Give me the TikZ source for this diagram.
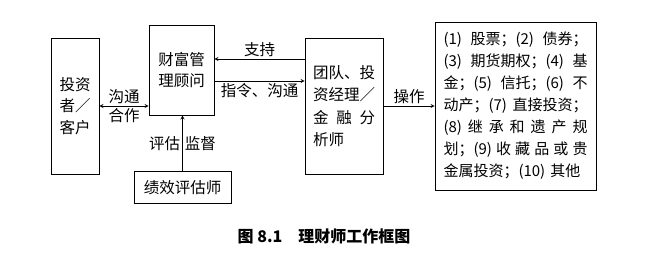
\documentclass[tikz,border=0pt]{standalone}
\usepackage{fontspec}
\setmainfont{Noto Sans CJK SC}
\usepackage{tikz}
\usetikzlibrary{arrows,positioning}
\newcommand{\fillline}[2]{\makebox[#1][s]{#2}}

\begin{document}
\begin{tikzpicture}[
    x=1pt, y=-1pt,
    mybox/.style={draw, thick, inner sep=0pt, font=\fontsize{15.5}{21.5}\selectfont},
    myedge/.style={->, thick, >=stealth},
    mylabel/.style={font=\fontsize{15.5}{18}\selectfont, inner sep=2pt}
]
\useasboundingbox (0,0) rectangle (668,262);
\node[mybox, align=center, minimum width=48, minimum height=136] (C) at (75,106) {投资\\者／\\客户};
\node[mybox, align=center, minimum width=65, minimum height=90] (A) at (181.5,70) {财富管\\理顾问};
\node[mybox, minimum width=97, minimum height=32] (E) at (182.5,187.5) {绩效评估师};
\node[mybox, align=left, minimum width=78, minimum height=136, font=\fontsize{15.5}{22.5}\selectfont] (T) at (344,106)
    {团队、投\\资经理／\\\fillline{62pt}{金\hfill 融\hfill 分}\\析师};
\node[mybox, align=left, text width=144pt, inner xsep=8.5pt, minimum height=168, font=\fontsize{15}{22}\selectfont] (P) at (515.5,106)
    {\fillline{144pt}{(1)\hfill 股票；(2)\hfill 债券；}\\
     \fillline{144pt}{(3)\hfill 期货期权；(4)\hfill 基}\\
     \fillline{144pt}{金；(5)\hfill 信托；(6)\hfill 不}\\
     \fillline{144pt}{动产；(7)\hfill 直接投资；}\\
     \fillline{144pt}{(8)\hfill 继\hfill 承\hfill 和\hfill 遗\hfill 产\hfill 规}\\
     \fillline{144pt}{划；(9)\hfill 收\hfill 藏\hfill 品\hfill 或\hfill 贵}\\
     金属投资；(10) 其他};
\node[font=\bfseries\fontsize{16}{16}\selectfont] (F) at (324,236) {图 8.1\quad 理财师工作框图};

\draw[myedge, <->] (C.east) -- (C.east -| A.west)
    node[mylabel, midway, above] {沟通} node[mylabel, midway, below] {合作};
\draw[myedge] ([yshift=11pt]A.east -| T.west) -- ([yshift=11pt]A.east)
    node[mylabel, midway, above] {支持};
\draw[myedge] ([yshift=-11pt]A.east) -- ([yshift=-11pt]A.east -| T.west)
    node[mylabel, midway, below] {指令、沟通};
\draw[myedge] (E.north) -- (E.north |- A.south)
    node[mylabel, midway, left] {评估} node[mylabel, midway, right] {监督};
\draw[myedge] (T.east) -- (P.west)
    node[mylabel, midway, above] {操作};
\end{tikzpicture}
\end{document}
